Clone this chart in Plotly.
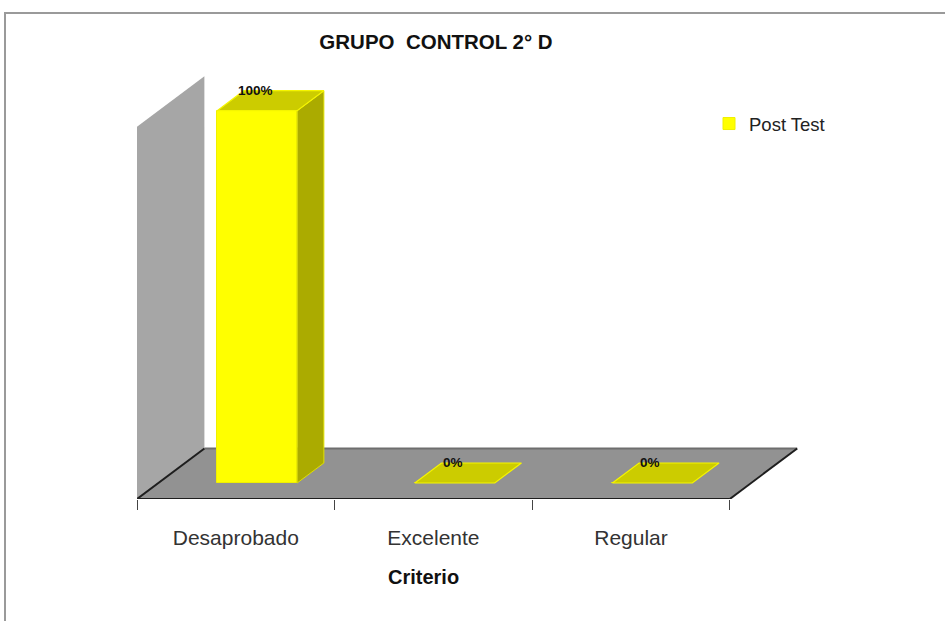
import plotly.graph_objects as go

# ---- data ----
categories = ["Desaprobado", "Excelente", "Regular"]
post_test = [100, 0, 0]
value_labels = ["100%", "0%", "0%"]
series_name = "Post Test"
chart_title = "GRUPO  CONTROL 2° D"
x_title = "Criterio"
axis_max = 100

# ---- layout geometry (pixels) ----
W, H = 945, 621
ML, MR, MT, MB = 137, 135, 60, 122
PW, PH = W - ML - MR, H - MT - MB
PX_PER_CAT = 197.6
PX_PER_PCT = 3.723
XR = [-0.5, -0.5 + PW / PX_PER_CAT]
YR = [0, PH / PX_PER_PCT]

# 3-D depth projection (in axis units)
DEPTH_DX = 67.4 / PX_PER_CAT
DEPTH_DY = 50.5 / PX_PER_PCT
D0, D1 = 0.317, 0.713      # bar front / back depth
BW = 80 / PX_PER_CAT       # bar width

FONT = "Liberation Sans, Arial"


def proj(c, v, d):
    return c + d * DEPTH_DX, v + d * DEPTH_DY


def poly(pts):
    xs, ys = zip(*[proj(*p) for p in pts])
    xs = list(xs) + [xs[0]]
    ys = list(ys) + [ys[0]]
    return xs, ys


def path(pts):
    s = ""
    for i, p in enumerate(pts):
        x, y = proj(*p)
        s += ("M" if i == 0 else "L") + f"{x},{y} "
    return s + "Z"


n = len(categories)
left, right = -0.5, n - 0.5

fig = go.Figure()

shapes = []
# side wall
shapes.append(dict(type="path", xref="x", yref="y", layer="below",
                   path=path([(left, 0, 0), (left, axis_max, 0), (left, axis_max, 1), (left, 0, 1)]),
                   fillcolor="#A6A6A6", line=dict(width=0)))
# floor
shapes.append(dict(type="path", xref="x", yref="y", layer="below",
                   path=path([(left, 0, 0), (right, 0, 0), (right, 0, 1), (left, 0, 1)]),
                   fillcolor="#929292", line=dict(width=0)))
# floor back edge
bx0, by0 = proj(left, 0, 1)
bx1, by1 = proj(right, 0, 1)
shapes.append(dict(type="line", xref="x", yref="y", layer="below",
                   x0=bx0, y0=by0, x1=bx1, y1=by1, line=dict(color="#6E6E6E", width=2)))
# floor left / right / front edges
for (a, b) in [((left, 0, 0), (left, 0, 1)), ((right, 0, 0), (right, 0, 1)), ((left, 0, 0), (right, 0, 0))]:
    x0, y0 = proj(*a)
    x1, y1 = proj(*b)
    shapes.append(dict(type="line", xref="x", yref="y", layer="below",
                       x0=x0, y0=y0, x1=x1, y1=y1, line=dict(color="#1E1E1E", width=2)))
# outer frame
shapes.append(dict(type="rect", xref="paper", yref="paper",
                   x0=(5 - ML) / PW, x1=(W + 20 - ML) / PW,
                   y0=(H - MB - (H + 20)) / PH, y1=(H - MB - 13) / PH,
                   line=dict(color="#9A9A9A", width=2), fillcolor="rgba(0,0,0,0)", layer="below"))

# bars: front faces
fx = [proj(i, 0, D0)[0] for i in range(n)]
fig.add_trace(go.Bar(
    x=fx, y=post_test, base=[D0 * DEPTH_DY] * n, width=BW,
    marker=dict(color="#FFFF00", line=dict(color="#F0F000", width=1)),
    name=series_name, showlegend=True, hoverinfo="skip",
))

# side and top faces
for i, v in enumerate(post_test):
    cl, cr = i - BW / 2, i + BW / 2
    if v > 0:
        xs, ys = poly([(cr, 0, D0), (cr, v, D0), (cr, v, D1), (cr, 0, D1)])
        fig.add_trace(go.Scatter(x=xs, y=ys, fill="toself", fillcolor="#ABAB00",
                                 line=dict(color="#E0E000", width=1), mode="lines",
                                 showlegend=False, hoverinfo="skip"))
    xs, ys = poly([(cl, v, D0), (cr, v, D0), (cr, v, D1), (cl, v, D1)])
    fig.add_trace(go.Scatter(x=xs, y=ys, fill="toself", fillcolor="#CCCC00",
                             line=dict(color="#F5F500", width=1.2), mode="lines",
                             showlegend=False, hoverinfo="skip"))

annotations = []
for i, v in enumerate(post_test):
    ax, ay = proj(i, v, D1)
    annotations.append(dict(x=proj(i, 0, D0)[0], y=ay, xref="x", yref="y",
                            text=f"<b>{value_labels[i]}</b>", showarrow=False,
                            xshift=-2, yanchor="middle",
                            font=dict(family=FONT, size=13.5, color="#111111")))
annotations.append(dict(x=(423 - ML) / PW, y=-(577 - (H - MB)) / PH, xref="paper", yref="paper",
                        text=f"<b>{x_title}</b>", showarrow=False, yanchor="middle",
                        font=dict(family=FONT, size=20, color="#111111")))

fig.update_layout(
    width=W, height=H, autosize=False,
    margin=dict(l=ML, r=MR, t=MT, b=MB, pad=0),
    paper_bgcolor="#FFFFFF", plot_bgcolor="rgba(0,0,0,0)",
    title=dict(text=f"<b>{chart_title}</b>", x=436 / W, xref="container", xanchor="center",
               y=1 - 42 / H, yref="container", yanchor="middle",
               font=dict(family=FONT, size=20.5, color="#111111")),
    xaxis=dict(range=XR, showgrid=False, zeroline=False, showline=False,
               tickvals=list(range(n)), ticktext=categories, ticks="",
               ticklabelstandoff=24,
               tickfont=dict(family=FONT, size=21, color="#333333"),
               minor=dict(tickvals=[k - 0.5 for k in range(n + 1)], ticks="outside",
                          ticklen=10, tickcolor="#444444", tickwidth=1, showgrid=False)),
    yaxis=dict(range=YR, visible=False, showgrid=False, zeroline=False),
    legend=dict(x=(709 - ML) / PW, y=1 - (124 - MT) / PH, xanchor="left", yanchor="middle",
                bgcolor="rgba(0,0,0,0)",
                font=dict(family=FONT, size=18.5, color="#222222")),
    shapes=shapes, annotations=annotations,
    bargap=0,
)

fig.write_html("out.html", config={"displayModeBar": False},
               post_script="document.body.style.margin='0';document.body.style.overflow='hidden';")
